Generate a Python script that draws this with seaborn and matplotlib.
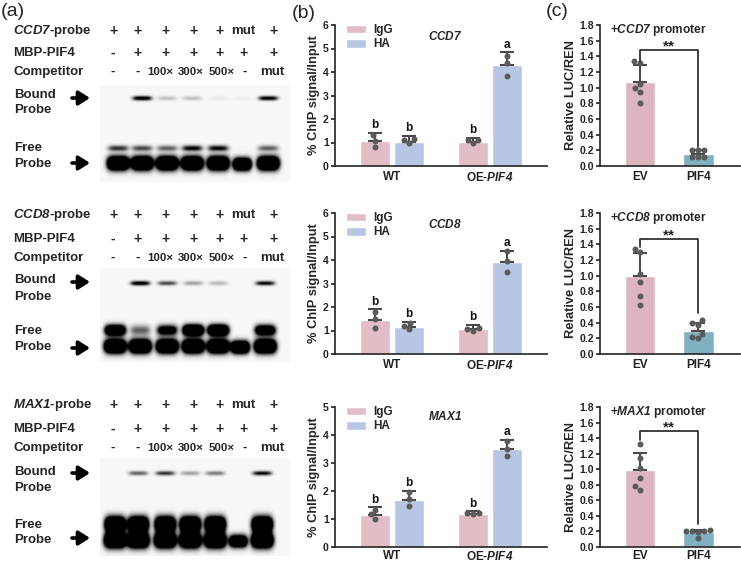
import numpy as np
import pandas as pd
import matplotlib
matplotlib.use("Agg")
import matplotlib.pyplot as plt
import seaborn as sns
from matplotlib.patches import Patch
import warnings
warnings.filterwarnings("ignore")

# ---------------- data ----------------
genotypes = ["WT", "OE-PIF4"]
antibodies = ["IgG", "HA"]
chip_genes = ["CCD7", "CCD8", "MAX1"]
chip_ymax = [6, 6, 5]
# order: WT-IgG, WT-HA, OE-IgG, OE-HA
chip_ccd7_mean = [1.07, 1.04, 1.03, 4.30]
chip_ccd7_err = [0.33, 0.23, 0.18, 0.53]
chip_ccd7_pts = [[1.32, 1.08, 0.82], [0.97, 1.15, 1.12], [0.97, 1.12, 1.10], [4.70, 4.38, 3.84]]
chip_ccd8_mean = [1.46, 1.17, 1.05, 3.92]
chip_ccd8_err = [0.44, 0.21, 0.19, 0.48]
chip_ccd8_pts = [[1.80, 1.48, 1.10], [1.05, 1.18, 1.30], [1.00, 1.10, 1.08], [4.37, 3.94, 3.50]]
chip_max1_mean = [1.15, 1.68, 1.17, 3.50]
chip_max1_err = [0.27, 0.33, 0.10, 0.32]
chip_max1_pts = [[1.00, 1.17, 1.32], [1.95, 1.72, 1.45], [1.18, 1.20, 1.22], [3.78, 3.50, 3.26]]
chip_letters = [["b", "b", "b", "a"], ["b", "b", "b", "a"], ["b", "b", "b", "a"]]

luc_groups = ["EV", "PIF4"]
luc_ccd7_mean = [1.07, 0.15]
luc_ccd7_err = [0.22, 0.06]
luc_ccd7_pts = [[1.34, 1.31, 1.05, 1.00, 0.95, 0.80], [0.20, 0.20, 0.20, 0.12, 0.12, 0.12]]
luc_ccd8_mean = [0.99, 0.30]
luc_ccd8_err = [0.30, 0.10]
luc_ccd8_pts = [[1.34, 1.30, 1.02, 0.92, 0.74, 0.63], [0.43, 0.40, 0.37, 0.26, 0.22, 0.20]]
luc_max1_mean = [0.99, 0.19]
luc_max1_err = [0.22, 0.03]
luc_max1_pts = [[1.33, 1.14, 1.01, 0.89, 0.78, 0.73], [0.22, 0.21, 0.20, 0.20, 0.19, 0.11]]
luc_bracket = [[1.33, 1.48, 0.24], [1.36, 1.47, 0.52], [1.38, 1.49, 0.30]]

# EMSA gel layout (band intensities per lane)
emsa_probes = ["CCD7", "CCD8", "MAX1"]
emsa_probe_row = ["+", "+", "+", "+", "+", "mut", "+"]
emsa_mbp_row = ["-", "+", "+", "+", "+", "+", "+"]
emsa_comp_row = ["-", "-", "100\u00d7", "300\u00d7", "500\u00d7", "-", "mut"]
emsa_bound = [[0, 1.2, 0.22, 0.22, 0.06, 0.04, 1.1],
              [0, 1.2, 0.7, 0.35, 0.25, 0, 1.0],
              [0, 0.6, 0.8, 0.35, 0.5, 0, 1.0]]
emsa_free_upper = [[0.8, 0.7, 0.6, 1.0, 1.0, 0, 0.6],
                   [2.5, 0.6, 1.5, 3, 3, 0, 2],
                   [3, 3, 3, 3, 3, 0, 3]]
emsa_free_main = [[3, 3, 3, 3, 3, 0, 3],
                  [3, 3, 3, 3, 3, 0, 3],
                  [3, 3, 3, 3, 3, 0, 3]]
emsa_free_mut = [3, 3, 2.5]

# ---------------- style ----------------
sns.set_theme(style="ticks")
plt.rcParams['font.family'] = ['Liberation Sans', 'DejaVu Sans']
plt.rcParams['font.weight'] = 'bold'
plt.rcParams['mathtext.fontset'] = 'custom'
plt.rcParams['mathtext.it'] = 'Liberation Sans:italic:bold'
plt.rcParams['mathtext.rm'] = 'Liberation Sans:italic:bold'
plt.rcParams['mathtext.bf'] = 'Liberation Sans:italic:bold'


def it(s):
    return "$\\mathrm{" + s + "}$"


W, H = 741, 563
fig = plt.figure(figsize=(W / 100, H / 100), dpi=100)
fig.patch.set_facecolor("white")

c_igg = "#e2bdc6"
c_ha = "#b7c7e3"
c_ev = "#dcb5bf"
c_pif = "#7fb1c1"
c_dot = "#5a5a5a"
c_err = "#4a4a4a"
c_axis = "#222222"


def frac(l, t, r, b):
    return [l / W, 1 - b / H, (r - l) / W, (b - t) / H]


def style_axes(ax, xpad=3.5):
    sns.despine(ax=ax)
    for s in ["left", "bottom"]:
        ax.spines[s].set_linewidth(1.2)
        ax.spines[s].set_color(c_axis)
    ax.tick_params(axis="y", direction="out", length=3, width=1.2, labelsize=7.5, pad=1.5, colors=c_axis)
    ax.tick_params(axis="x", length=0, labelsize=8.5, pad=xpad, colors=c_axis)
    for lab in ax.get_yticklabels() + ax.get_xticklabels():
        lab.set_fontweight("bold")


# ---------------- panel (a): EMSA ----------------
axa = fig.add_axes([0, 0, 290 / W, 1])
axa.set_xlim(0, 290)
axa.set_ylim(H, 0)
axa.axis("off")
axa.text(1, 12, "(a)", fontsize=14, fontweight="normal", va="center", ha="left")

header_x = [113, 138, 165, 193, 219, 243, 273]
comp_x = [113, 138, 160, 191, 222, 245, 272]
lanes_x = [[118, 142, 167, 192, 218, 242, 268],
           [115, 140, 167, 193, 218, 240, 265],
           [115, 138, 165, 190, 215, 238, 262]]
rows_y = [[31, 53, 72], [215, 239, 258], [405, 429, 448]]
bound_y = [98, 283, 473]
upper_y = [148, 330, 524]
main_y = [163, 346, 540]
gel_box = [(85, 182), (268, 362), (458, 556)]
lbl_bound = [(95, 110), (280, 297), (472, 488)]
lbl_free = [(148, 164), (331, 347), (525, 540)]
arrow_y = [(98, 163), (282, 348), (473, 538)]

for g in range(3):
    y0, y1 = gel_box[g]
    xs = np.arange(100, 290, 0.5)
    ys = np.arange(y0, y1, 0.5)
    X, Y = np.meshgrid(xs, ys)
    img = np.full(X.shape, 0.03)
    lx = lanes_x[g]
    for i in range(7):
        img += emsa_bound[g][i] * np.exp(-np.abs((X - lx[i]) / 8.0) ** 4 / 2 - ((Y - bound_y[g]) / 1.5) ** 2 / 2)
        sy_u = 2.0 if g == 0 else (3.5 if g == 1 else 5.0)
        img += emsa_free_upper[g][i] * np.exp(-np.abs((X - lx[i]) / 8.5) ** 4 / 2 - ((Y - upper_y[g]) / sy_u) ** 2 / 2)
        sy_m = 4.5 if g < 2 else 5.0
        img += emsa_free_main[g][i] * np.exp(-np.abs((X - lx[i]) / 9.0) ** 4 / 2 - ((Y - main_y[g]) / sy_m) ** 2 / 2)
    img += emsa_free_mut[g] * np.exp(-np.abs((X - lx[5]) / 7.5) ** 4 / 2 - ((Y - (main_y[g] + 1)) / 4.0) ** 2 / 2)
    img = np.clip(img, 0, 1)
    axa.imshow(img, cmap="gray_r", vmin=0, vmax=1, extent=(100, 290, y1, y0), aspect="auto",
               interpolation="bilinear", zorder=1)

    ry = rows_y[g]
    axa.text(13, ry[0], it(emsa_probes[g]) + "-probe", fontsize=9.5, va="center", ha="left")
    axa.text(13, ry[1], "MBP-PIF4", fontsize=9.5, va="center", ha="left")
    axa.text(13, ry[2], "Competitor", fontsize=9.5, va="center", ha="left")
    for i in range(7):
        axa.text(header_x[i], ry[0], emsa_probe_row[i], fontsize=10 if emsa_probe_row[i] == "+" else 9.5,
                 ha="center", va="center")
        axa.text(header_x[i], ry[1], emsa_mbp_row[i], fontsize=10, ha="center", va="center")
        lab = emsa_comp_row[i]
        axa.text(comp_x[i], ry[2], lab, fontsize=8.2 if "\u00d7" in lab else 9.5,
                 ha="center", va="center")
    axa.text(14, lbl_bound[g][0], "Bound", fontsize=9.5, va="center", ha="left")
    axa.text(14, lbl_bound[g][1], "Probe", fontsize=9.5, va="center", ha="left")
    axa.text(14, lbl_free[g][0], "Free", fontsize=9.5, va="center", ha="left")
    axa.text(14, lbl_free[g][1], "Probe", fontsize=9.5, va="center", ha="left")
    for ay in arrow_y[g]:
        axa.annotate("", xy=(90, ay), xytext=(72, ay),
                     arrowprops=dict(arrowstyle="-|>,head_width=0.35,head_length=0.55",
                                     lw=2.6, color="black", shrinkA=0, shrinkB=0))

# ---------------- panel (b): ChIP ----------------
chip_means = [chip_ccd7_mean, chip_ccd8_mean, chip_max1_mean]
chip_errs = [chip_ccd7_err, chip_ccd8_err, chip_max1_err]
chip_pts = [chip_ccd7_pts, chip_ccd8_pts, chip_max1_pts]
row_tb = [(25, 166), (213, 354), (407, 547)]
gene_y = [0.92, 0.915, 0.93]

fig.text(292 / W, 1 - 14 / H, "(b)", fontsize=14, fontweight="normal", va="center", ha="left")
fig.text(546 / W, 1 - 12 / H, "(c)", fontsize=14, fontweight="normal", va="center", ha="left")

geno_col = [genotypes[0], genotypes[0], genotypes[1], genotypes[1]]
ab_col = [antibodies[0], antibodies[1], antibodies[0], antibodies[1]]

for r in range(3):
    t, b = row_tb[r]
    ax = fig.add_axes(frac(335, t, 547, b))
    df = pd.DataFrame({"genotype": geno_col, "antibody": ab_col, "value": chip_means[r]})
    sns.barplot(data=df, x="genotype", y="value", hue="antibody", hue_order=antibodies,
                order=genotypes, palette=[c_igg, c_ha], width=0.7, gap=0.12, errorbar=None,
                saturation=1, legend=False, ax=ax, zorder=1)
    centers = {}
    for hi, cont in enumerate(ax.containers):
        for gi, bar in enumerate(cont):
            centers[gi * 2 + hi] = bar.get_x() + bar.get_width() / 2
    xs_c = [centers[k] for k in range(4)]
    ax.errorbar(xs_c, chip_means[r], yerr=[np.zeros(4), chip_errs[r]], fmt="none",
                ecolor=c_err, elinewidth=1.5, capsize=4.7, capthick=1.5, zorder=3)
    pdf = pd.DataFrame({"x": np.repeat(xs_c, 3), "y": np.concatenate(chip_pts[r])})
    sns.swarmplot(data=pdf, x="x", y="y", native_scale=True, orient="x", color=c_dot,
                  size=4.3, ax=ax, zorder=4)
    for k in range(4):
        ax.annotate(chip_letters[r][k], xy=(xs_c[k], chip_means[r][k] + chip_errs[r][k]),
                    xytext=(0, 1.2), textcoords="offset points", ha="center", va="bottom",
                    fontsize=8.5, fontweight="bold", color="#111111")
    ax.text(0.52, gene_y[r], it(chip_genes[r]), transform=ax.transAxes,
            ha="center", va="center", fontsize=8.5)
    ax.legend(handles=[Patch(facecolor=c_igg, label=antibodies[0]), Patch(facecolor=c_ha, label=antibodies[1])],
              loc="upper left", bbox_to_anchor=(0.03, 1.04), frameon=False,
              prop={"size": 8.5, "weight": "bold"}, handlelength=1.7, handleheight=0.75,
              labelspacing=0.2, handletextpad=0.6, borderaxespad=0)
    ax.set_xlim(-0.58, 1.58)
    ax.set_ylim(0, chip_ymax[r])
    ax.set_yticks(np.arange(0, chip_ymax[r] + 1, 1))
    ax.set_xticks([0, 1])
    ax.set_xticklabels(["WT", "OE-" + it("PIF4")])
    ax.set_xlabel("")
    ax.set_ylabel("% ChIP signal/Input", fontsize=9.3, fontweight="bold", labelpad=2)
    style_axes(ax, xpad=2.5 if r == 2 else 3.5)

# ---------------- panel (c): LUC ----------------
luc_means = [luc_ccd7_mean, luc_ccd8_mean, luc_max1_mean]
luc_errs = [luc_ccd7_err, luc_ccd8_err, luc_max1_err]
luc_pts = [luc_ccd7_pts, luc_ccd8_pts, luc_max1_pts]

for r in range(3):
    t, b = row_tb[r]
    ax = fig.add_axes(frac(600, t, 740, b))
    df = pd.DataFrame({"group": luc_groups, "value": luc_means[r]})
    sns.barplot(data=df, x="group", y="value", hue="group", order=luc_groups, hue_order=luc_groups,
                palette=[c_ev, c_pif], width=0.53, errorbar=None, saturation=1, legend=False,
                ax=ax, zorder=1)
    bars = sorted([bar for cont in ax.containers for bar in cont], key=lambda p: p.get_x())
    xs_c = [bar.get_x() + bar.get_width() / 2 for bar in bars]
    ax.errorbar(xs_c, luc_means[r], yerr=[np.zeros(2), luc_errs[r]], fmt="none",
                ecolor=c_err, elinewidth=1.5, capsize=4.7, capthick=1.5, zorder=3)
    pdf = pd.DataFrame({"x": np.repeat(xs_c, 6), "y": np.concatenate(luc_pts[r])})
    sns.swarmplot(data=pdf, x="x", y="y", native_scale=True, orient="x", color=c_dot,
                  size=4.3, ax=ax, zorder=4)
    yl, yt, yr = luc_bracket[r]
    ax.plot([xs_c[0], xs_c[0], xs_c[1], xs_c[1]], [yl, yt, yt, yr], color="#333333", lw=1.3, zorder=5)
    ax.annotate("**", xy=((xs_c[0] + xs_c[1]) / 2, yt), xytext=(0, -2.5), textcoords="offset points",
                ha="center", va="bottom", fontsize=11, fontweight="bold", color="#222222")
    ax.text(0.415, 0.965, "+" + it(chip_genes[r]) + " promoter", transform=ax.transAxes,
            ha="center", va="center", fontsize=8.6)
    ax.set_xlim(-0.69, 1.72)
    ax.set_ylim(0, 1.8)
    ax.set_yticks(np.round(np.arange(0, 1.81, 0.2), 1))
    ax.set_yticklabels([f"{v:.1f}" for v in np.arange(0, 1.81, 0.2)])
    ax.set_xticks([0, 1])
    ax.set_xticklabels(luc_groups)
    ax.set_xlabel("")
    ax.set_ylabel("Relative LUC/REN", fontsize=9.3, fontweight="bold", labelpad=1.5)
    style_axes(ax, xpad=2.5 if r == 2 else 3.5)

fig.savefig("out.png", dpi=100, facecolor="white")
